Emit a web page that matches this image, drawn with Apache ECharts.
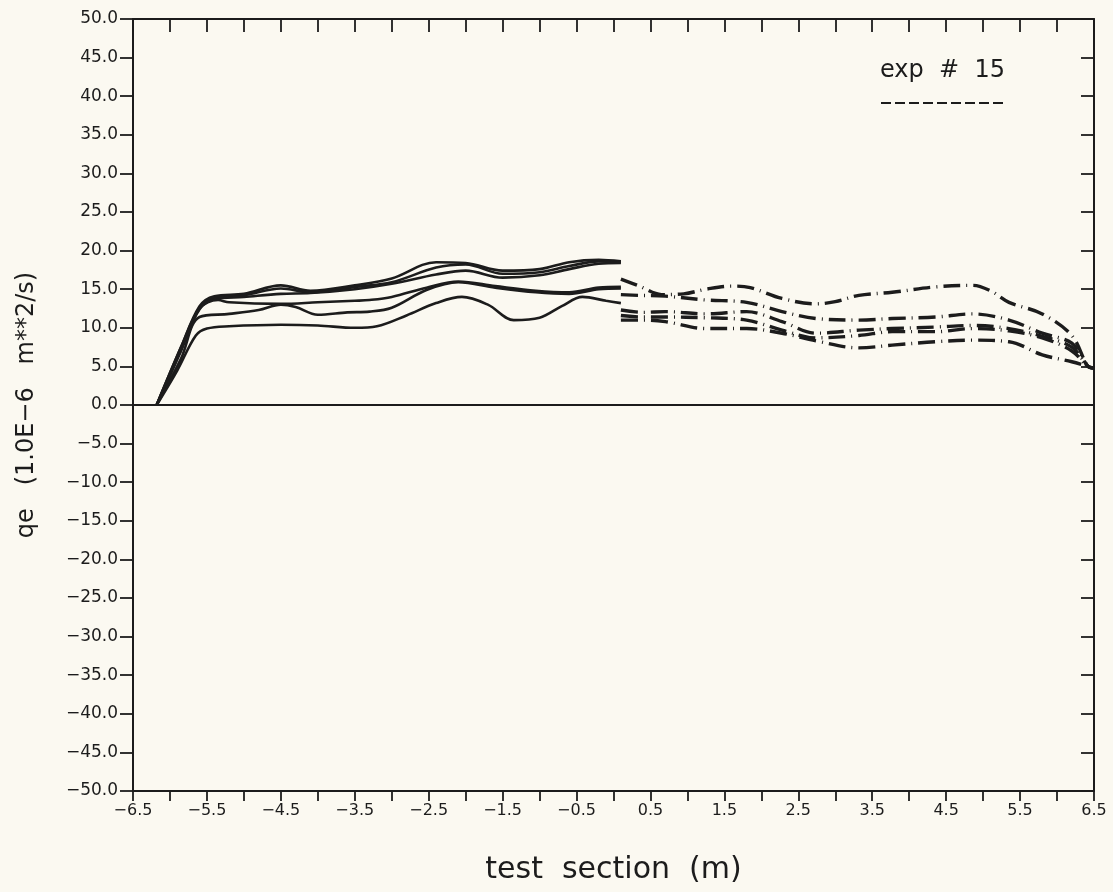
<!DOCTYPE html>
<html>
<head>
<meta charset="utf-8">
<title>exp # 15 — qe along test section</title>
<script src="https://cdn.jsdelivr.net/npm/echarts@6/dist/echarts.min.js"></script>
<style>
  html, body { margin: 0; padding: 0; background: #fbf9f1; }
  #chart { width: 1113px; height: 892px; }
</style>
</head>
<body>
<div id="chart"></div>
<script>
// Upstream profiles (solid), x in m, qe in 1.0E-6 m**2/s
const solidT1 = [[-6.18,0],[-5.85,7.5],[-5.6,12.8],[-5.4,14.1],[-5.0,14.4],[-4.5,15.5],[-4.1,14.8],[-3.5,15.5],[-3.0,16.4],[-2.4,18.5],[-2.0,18.4],[-1.5,17.4],[-1.0,17.6],[-0.6,18.5],[-0.2,18.8],[0.1,18.6]];
const solidT2 = [[-6.18,0],[-5.85,7.5],[-5.6,12.6],[-5.4,13.9],[-5.0,14.2],[-4.5,15.1],[-4.1,14.6],[-3.5,15.3],[-3.0,15.9],[-2.4,17.8],[-2.0,18.2],[-1.5,17.0],[-1.0,17.2],[-0.6,18.0],[-0.2,18.6],[0.1,18.5]];
const solidT3 = [[-6.18,0],[-5.85,7.2],[-5.6,12.4],[-5.4,13.7],[-5.0,14.0],[-4.5,14.4],[-4.1,14.5],[-3.5,15.0],[-3.0,15.7],[-2.4,16.9],[-2.0,17.4],[-1.5,16.5],[-1.0,16.8],[-0.6,17.6],[-0.2,18.3],[0.1,18.4]];
const solidC  = [[-6.18,0],[-5.85,7.0],[-5.6,12.5],[-5.35,13.6],[-5.2,13.3],[-4.5,13.1],[-4.0,13.3],[-3.5,13.5],[-3.3,13.6],[-3.0,14.0],[-2.53,15.2],[-2.1,16.0],[-1.6,15.4],[-1.05,14.8],[-0.6,14.6],[-0.2,15.2],[0.1,15.3]];
const solidB  = [[-6.18,0],[-5.85,6.0],[-5.6,11.4],[-5.2,11.8],[-4.8,12.3],[-4.5,13.0],[-4.3,12.7],[-4.0,11.7],[-3.6,12.0],[-3.3,12.1],[-3.0,12.6],[-2.53,14.9],[-2.1,15.9],[-1.6,15.2],[-1.05,14.6],[-0.6,14.4],[-0.2,15.0],[0.1,15.1]];
const solidA  = [[-6.18,0],[-5.9,4.5],[-5.65,9.0],[-5.5,9.9],[-5.2,10.2],[-4.5,10.4],[-4.0,10.3],[-3.5,10.0],[-3.2,10.2],[-2.8,11.6],[-2.4,13.2],[-2.05,14.0],[-1.7,13.0],[-1.35,11.0],[-1.0,11.3],[-0.7,12.8],[-0.42,14.0],[-0.1,13.5],[0.1,13.2]];

// Downstream profiles (dashed)
const dashD1 = [[0.1,16.3],[0.35,15.4],[0.65,14.3],[0.95,14.4],[1.25,15.0],[1.6,15.4],[1.85,15.2],[2.28,13.8],[2.74,13.1],[3.0,13.4],[3.32,14.2],[3.77,14.6],[4.36,15.3],[4.86,15.5],[5.1,14.8],[5.35,13.3],[5.8,11.8],[6.2,9.0],[6.42,5.0],[6.5,4.8]];
const dashD2 = [[0.1,14.3],[0.35,14.2],[0.7,14.1],[1.25,13.6],[1.8,13.3],[2.28,12.1],[2.74,11.2],[3.32,11.0],[3.77,11.2],[4.36,11.4],[4.86,11.8],[5.35,11.0],[5.8,9.3],[6.2,8.0],[6.42,5.0],[6.5,4.8]];
const dashD3 = [[0.1,12.3],[0.4,12.0],[0.7,12.1],[1.25,11.8],[1.8,12.1],[2.28,10.8],[2.74,9.3],[3.32,9.7],[3.77,9.9],[4.36,10.1],[4.86,10.3],[5.35,9.9],[5.8,8.9],[6.2,7.5],[6.42,5.0],[6.5,4.8]];
const dashD4 = [[0.1,11.6],[0.4,11.4],[0.7,11.4],[1.25,11.3],[1.8,11.0],[2.28,9.7],[2.74,8.7],[3.32,9.0],[3.77,9.5],[4.36,9.5],[4.86,9.9],[5.35,9.6],[5.8,8.7],[6.2,7.0],[6.42,5.0],[6.5,4.8]];
const dashD5 = [[0.1,11.0],[0.4,11.0],[0.7,10.8],[1.25,9.9],[1.8,9.9],[2.28,9.3],[2.74,8.3],[3.32,7.4],[3.77,7.75],[4.36,8.2],[4.86,8.4],[5.35,8.2],[5.8,6.5],[6.2,5.6],[6.42,5.0],[6.5,4.8]];

// Axis ranges
const xRange = [-6.5, 6.5];
const yRange = [-50, 50];
const xStep = 0.5;
const yStep = 5;

const solidSeries = [solidT1, solidT2, solidT3, solidC, solidB, solidA];
const dashedSeries = [dashD1, dashD2, dashD3, dashD4, dashD5];

const INK = '#1c1c1c';
const FONT = 'DejaVu Sans, sans-serif';

function fmtSigned(v, digits) {
  const s = Math.abs(v).toFixed(digits);
  return v < 0 ? '\u2212' + s : s;
}

const chart = echarts.init(document.getElementById('chart'), null, { renderer: 'canvas' });

const series = [];
solidSeries.forEach(function (d, i) {
  series.push({
    type: 'line', data: d, smooth: 0.35, showSymbol: false, symbol: 'none',
    lineStyle: { color: INK, width: 2.6 },
    z: 3,
    markLine: i === 0 ? {
      silent: true, symbol: 'none', label: { show: false },
      lineStyle: { color: INK, width: 2, type: 'solid' },
      data: [{ yAxis: 0 }]
    } : undefined
  });
});
dashedSeries.forEach(function (d) {
  series.push({
    type: 'line', data: d, smooth: 0.35, showSymbol: false, symbol: 'none',
    lineStyle: { color: INK, width: 3.4, type: [17, 6, 1, 6], cap: 'butt' },
    z: 3
  });
});

const axisLineStyle = { onZero: false, lineStyle: { color: INK, width: 2 } };

const option = {
  backgroundColor: '#fbf9f1',
  animation: false,
  grid: { left: 133, right: 19, top: 19, bottom: 101, containLabel: false },
  xAxis: [{
    type: 'value', min: xRange[0], max: xRange[1], interval: xStep,
    position: 'bottom',
    name: 'test  section  (m)', nameLocation: 'middle', nameGap: 64,
    nameTextStyle: { fontFamily: FONT, fontSize: 30, color: INK },
    axisLine: axisLineStyle,
    axisTick: { inside: false, length: 10, lineStyle: { color: INK, width: 1.8 } },
    axisLabel: {
      fontFamily: FONT, fontSize: 16, color: INK, margin: 12,
      formatter: function (v) {
        const k = Math.round((v - xRange[0]) / xStep);
        return k % 2 === 0 ? fmtSigned(v, 1) : '';
      }
    },
    splitLine: { show: false }
  }, {
    type: 'value', min: xRange[0], max: xRange[1], interval: xStep,
    position: 'top',
    axisLine: axisLineStyle,
    axisTick: { inside: true, length: 13, lineStyle: { color: INK, width: 1.8 } },
    axisLabel: { show: false },
    splitLine: { show: false }
  }],
  yAxis: [{
    type: 'value', min: yRange[0], max: yRange[1], interval: yStep,
    position: 'left',
    name: 'qe   (1.0E\u22126   m**2/s)', nameLocation: 'middle', nameGap: 94,
    nameTextStyle: { fontFamily: FONT, fontSize: 24, color: INK },
    axisLine: axisLineStyle,
    axisTick: { inside: false, length: 13, lineStyle: { color: INK, width: 1.8 } },
    axisLabel: {
      fontFamily: FONT, fontSize: 17, color: INK, margin: 15,
      formatter: function (v) { return fmtSigned(v, 1); }
    },
    splitLine: { show: false }
  }, {
    type: 'value', min: yRange[0], max: yRange[1], interval: yStep,
    position: 'right',
    axisLine: axisLineStyle,
    axisTick: { inside: true, length: 13, lineStyle: { color: INK, width: 1.8 } },
    axisLabel: { show: false },
    splitLine: { show: false }
  }],
  graphic: [
    {
      type: 'text', left: 880, top: 59,
      style: { text: 'exp  #  15', font: '24px ' + FONT, fill: INK }
    },
    {
      type: 'line', shape: { x1: 881, y1: 103, x2: 1005, y2: 103 },
      style: { stroke: INK, lineWidth: 2, lineDash: [10, 4] }
    }
  ],
  series: series
};

chart.setOption(option);
</script>
</body>
</html>
